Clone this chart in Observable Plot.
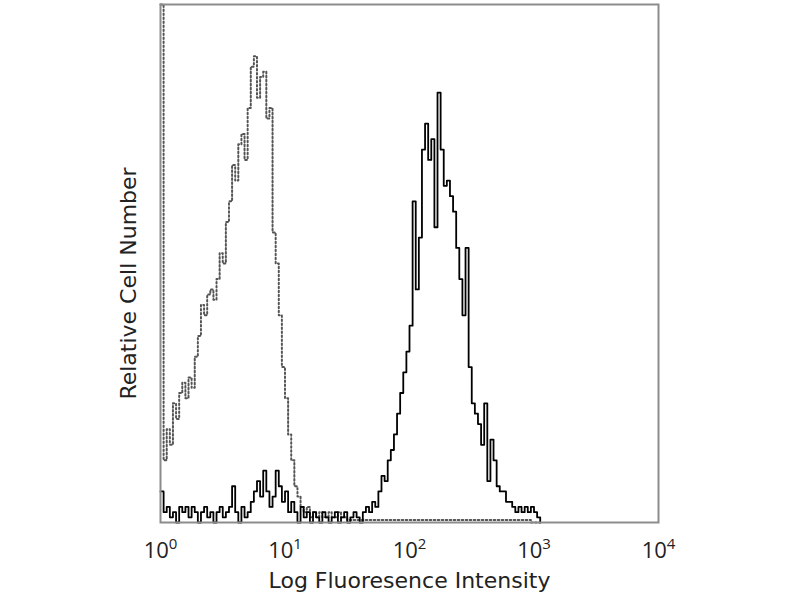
<!DOCTYPE html>
<html><head><meta charset="utf-8">
<script src="https://cdn.jsdelivr.net/npm/d3@7"></script>
<script src="https://cdn.jsdelivr.net/npm/@observablehq/plot@0.6"></script>
<style>body{margin:0;background:#fff} svg{display:block}</style>
</head><body><div id="chart"></div>
<script>
// x ticks (decades of fluorescence intensity)
const decadeTicks = [1, 10, 100, 1000, 10000];
// histogram channel width in log10 units (channel i starts at 10^(i*channelStep))
const channelStep = 0.025;
// stained sample (solid black histogram), relative counts per channel (0..100 = plot height)
const stainedCounts = [
  6,2,3,1,2,0,3,2,3,1, 3,2,0,2,3,1,2,0,2,3,
  1,2,3,7,2,0,3,1,2,4, 6,8,5,10,6,3,5,10,7,4,
  6,2,4,2,0,3,1,2,0,2, 1,0,2,1,0,1,2,0,1,2,
  0,1,2,1,0,2,3,2,4,3, 6,9,8,12,14,17,21,25,29,33,
  38,62,45,55,72,77,70,74,57,83, 72,65,66,63,60,53,47,40,53,30,
  23,21,19,15,23,8,16,12,7,6, 6,4,4,3,2,3,2,3,2,3,
  2,1,0
];
// isotype control (dotted grey histogram)
const isotypeCounts = [
  100,12,18,15,23,20,25,27,24,28, 26,32,36,42,40,44,45,43,47,52,
  50,58,62,69,66,73,75,70,80,88, 90,82,86,87,78,80,56,50,40,30,
  24,17,12,7,5,3,2,3,1,2, 1,2,1,1,2,1,1,2,1,1,
  0.5,0.5,0.5,0.5,0.5,0.5,0.5,0.5,0.5,0.5, 0.5,0.5,0.5,0.5,0.5,0.5,0.5,0.5,0.5,0.5,
  0.5,0.5,0.5,0.5,0.5,0.5,0.5,0.5,0.5,0.5, 0.5,0.5,0.5,0.5,0.5,0.5,0.5,0.5,0.5,0.5,
  0.5,0.5,0.5,0.5,0.5,0.5,0.5,0.5,0.5,0.5, 0.5,0.5,0.5,0.5,0.5,0.5,0.5,0.5,0.5,0,
  0,0,0
];
const xLabel = "Log Fluoresence Intensity";
const yLabel = "Relative Cell Number";

const toRows = counts => counts.map((c, i) => ({x: Math.pow(10, i * channelStep), c}));

const chart = Plot.plot({
  width: 800, height: 600,
  marginLeft: 160, marginRight: 142, marginTop: 4, marginBottom: 78,
  x: {type: "log", domain: [1, 10000]},
  y: {domain: [0, 100], axis: null},
  style: {fontFamily: "'Open Sans', sans-serif", color: "#222", background: "#fff"},
  marks: [
    Plot.line(toRows(isotypeCounts), {x: "x", y: "c", curve: "step-after", stroke: "#555", strokeWidth: 2, strokeDasharray: "1.6,2.4"}),
    Plot.line(toRows(stainedCounts), {x: "x", y: "c", curve: "step-after", stroke: "#000", strokeWidth: 1.8}),
    Plot.frame({stroke: "#8c8c8c", strokeWidth: 2}),
    Plot.axisX({ticks: decadeTicks, tickSize: 0, tickPadding: 20, fontSize: 22, label: null,
      tickFormat: d => `10^${Math.round(Math.log10(d))}`}),
    Plot.text([xLabel], {frameAnchor: "bottom", lineAnchor: "middle", dy: 58, fontSize: 22,
      fontFamily: "'DejaVu Sans', sans-serif", fill: "#222"}),
    Plot.text([yLabel], {frameAnchor: "left", textAnchor: "middle", rotate: -90, dx: -32, dy: 20, fontSize: 22,
      fontFamily: "'DejaVu Sans', sans-serif", fill: "#222"})
  ]
});

d3.select(chart).selectAll('[aria-label="x-axis tick label"] text').each(function() {
  const [b, e] = this.textContent.split("^");
  const t = d3.select(this);
  t.text(null);
  t.append("tspan").text(b);
  t.append("tspan").attr("dy", -9).attr("font-size", 15).text(e);
});

document.getElementById("chart").append(chart);
</script>
</body></html>
